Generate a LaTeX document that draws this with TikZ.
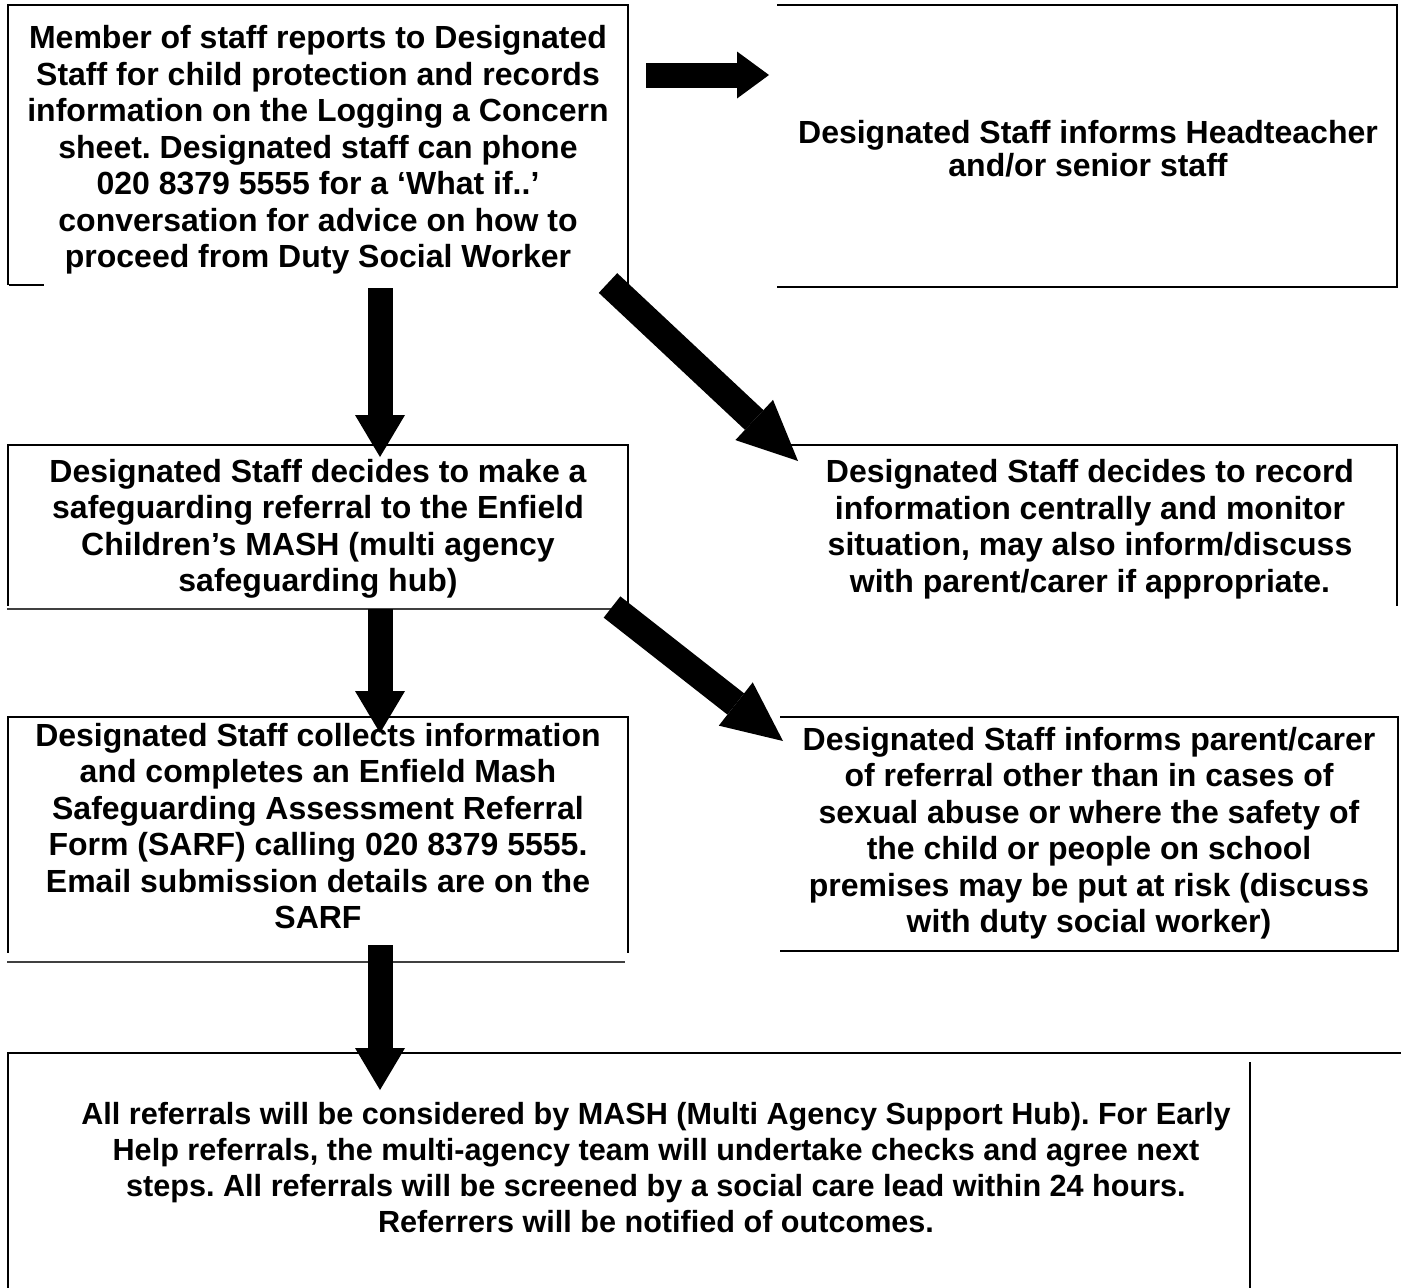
\documentclass[tikz,border=0pt]{standalone}
\usepackage{fontspec}
\setmainfont[Ligatures=NoCommon]{Liberation Sans}
\usetikzlibrary{arrows.meta}
\frenchspacing
\tikzset{
  frame/.style={draw=none, inner sep=0pt, outer sep=0pt},
  edge/.style={line width=2pt, line cap=rect},
  thinedge/.style={line width=1.3pt, draw=black!75},
  txt/.style={align=center, inner sep=0pt, font=\fontsize{32}{36.5}\selectfont\bfseries},
  vblock/.style={line width=25pt, -{Triangle[length=42pt,width=50pt,line width=0pt]}},
  hblock/.style={line width=25pt, -{Triangle[length=32pt,width=47pt,line width=0pt]}},
  dblock/.style={line width=27pt, -{Triangle[length=60pt,width=55pt,line width=0pt]}},
}
\begin{document}
\begin{tikzpicture}[x=1pt,y=-1pt]
\useasboundingbox (0,0) rectangle (1401,1288);
\fill[white] (0,0) rectangle (1401,1288);

% frames (named)
\node[frame, minimum width=620pt, minimum height=279pt] (b1) at (318,144.5) {};
\node[frame, minimum width=619pt, minimum height=282pt] (b2) at (1087.5,146) {};
\node[frame, minimum width=620pt, minimum height=160pt] (b3) at (318,525) {};
\node[frame, minimum width=617pt, minimum height=160pt] (b4) at (1088.5,525) {};
\node[frame, minimum width=620pt, minimum height=235pt] (b5) at (318,834.5) {};
\node[frame, minimum width=617pt, minimum height=234pt] (b6) at (1089.5,834) {};
\node[frame, minimum width=1242pt, minimum height=235pt] (b7) at (629,1170.5) {};

% box edges
\draw[edge] (b1.south west) -- (b1.north west) -- (b1.north east) -- (b1.south east);
\draw[edge] ([shift={(2pt,-1pt)}]b1.south west) -- ++(33pt,0);
\draw[edge] (b2.north west) -- (b2.north east) -- (b2.south east) -- (b2.south west);
\draw[edge] (b3.south west) -- (b3.north west) -- (b3.north east) -- (b3.south east);
\draw[thinedge] ([shift={(-1pt,-4pt)}]b3.south west) -- ([shift={(-8pt,-4pt)}]b3.south east);
\draw[edge] (b4.north west) -- (b4.north east) -- (b4.south east);
\draw[edge] (b5.south west) -- (b5.north west) -- (b5.north east) -- (b5.south east);
\draw[thinedge] ([shift={(-1pt,-10pt)}]b5.south west) -- ([shift={(-3pt,-10pt)}]b5.south east);
\draw[edge] (b6.north west) -- (b6.north east) -- (b6.south east) -- (b6.south west);
\draw[edge] (b7.south west) -- (b7.north west) -- (1401,1053);
\draw[edge] ([yshift=-10pt]b7.north east) -- (b7.south east);

% texts
\node[txt] (t1) at (318,150) {Member of staff reports to Designated\\Staff for child protection and records\\information on the Logging a Concern\\sheet. Designated staff can phone\\020 8379 5555 for a ‘What if..’\\conversation for advice on how to\\proceed from Duty Social Worker};
\node[txt, font=\fontsize{32}{33}\selectfont\bfseries] (t2) at (1088,149) {Designated Staff informs Headteacher\\and/or senior staff};
\node[txt] (t3) at (318,529) {Designated Staff decides to make a\\safeguarding referral to the Enfield\\Children’s MASH (multi agency\\safeguarding hub)};
\node[txt] (t4) at (1090,529) {Designated Staff decides to record\\information centrally and monitor\\situation, may also inform/discuss\\with parent/carer if appropriate.};
\node[txt] (t5) at (318,826) {Designated Staff collects information\\and completes an Enfield Mash\\Safeguarding Assessment Referral\\Form (SARF) calling 020 8379 5555.\\Email submission details are on the\\SARF};
\node[txt] (t6) at (1089,833) {Designated Staff informs parent/carer\\of referral other than in cases of\\sexual abuse or where the safety of\\the child or people on school\\premises may be put at risk (discuss\\with duty social worker)};
\node[txt, font=\fontsize{30.6}{36}\selectfont\bfseries] (t7) at (656,1168) {All referrals will be considered by MASH (Multi Agency Support Hub). For Early\\Help referrals, the multi-agency team will undertake checks and agree next\\steps. All referrals will be screened by a social care lead within 24 hours.\\Referrers will be notified of outcomes.};

% arrow end points
\coordinate (h1s) at (646,75);   \coordinate (h1e) at (769,75);
\coordinate (v1s) at (380,288);  \coordinate (v1e) at (380,457);
\coordinate (v2s) at (380,609);  \coordinate (v2e) at (380,733);
\coordinate (v3s) at (380,945);  \coordinate (v3e) at (380,1090);
\coordinate (d1s) at (608,283);  \coordinate (d1e) at (798,461);
\coordinate (d2s) at (612,607);  \coordinate (d2e) at (783,741);

% block arrows
\draw[hblock] (h1s) -- (h1e);
\draw[vblock] (v1s) -- (v1e);
\draw[vblock] (v2s) -- (v2e);
\draw[vblock] (v3s) -- (v3e);
\draw[dblock] (d1s) -- (d1e);
\draw[dblock] (d2s) -- (d2e);
\end{tikzpicture}
\end{document}
